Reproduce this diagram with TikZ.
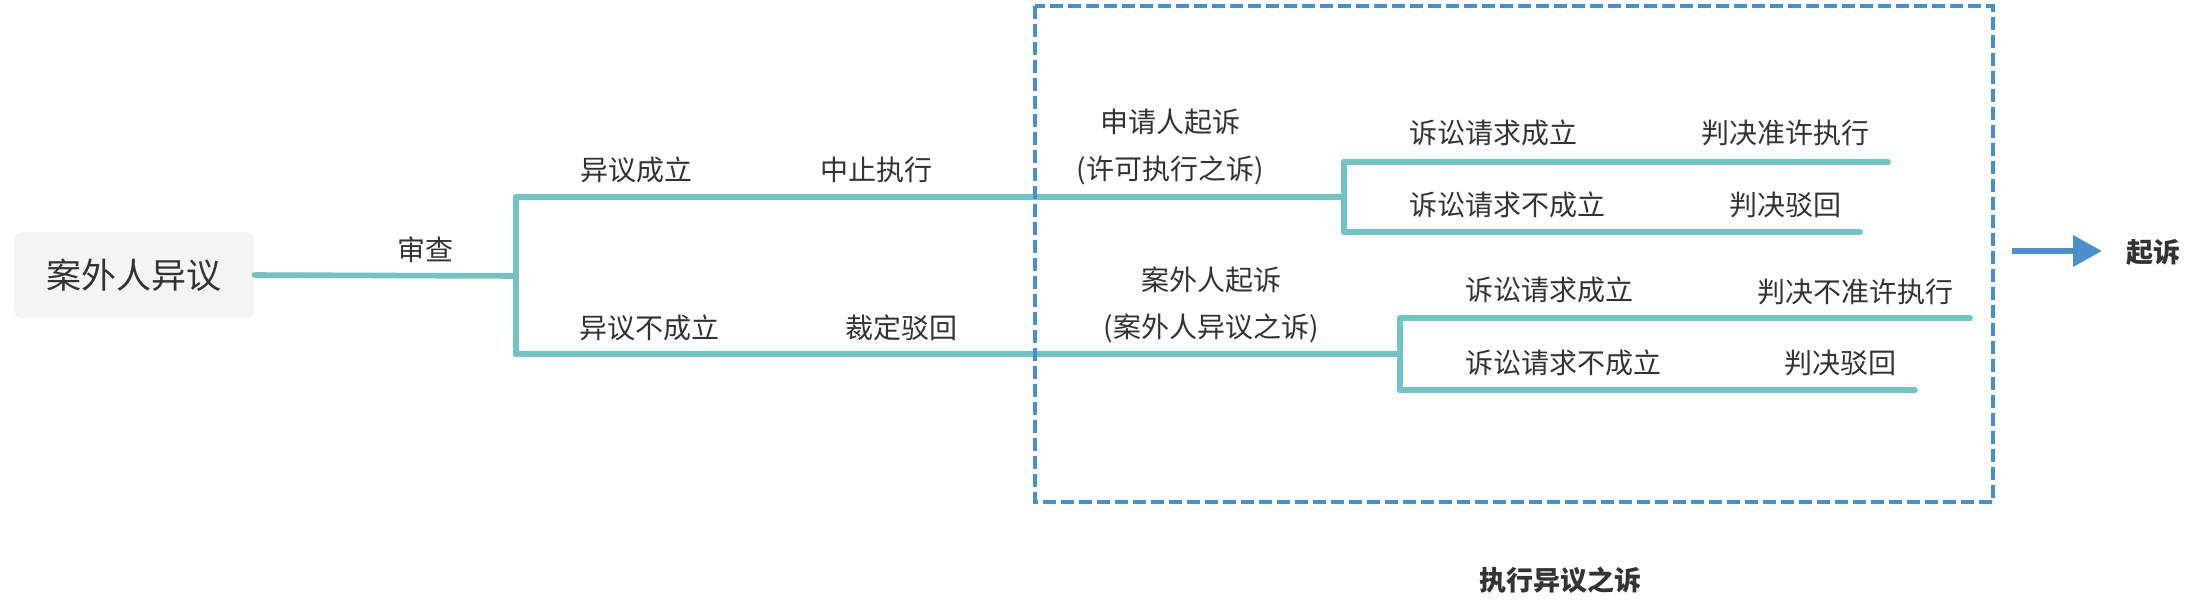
\documentclass[tikz,border=0pt]{standalone}
\usepackage{fontspec}
\setmainfont{Noto Sans CJK SC}
\usetikzlibrary{arrows.meta}
\definecolor{teal1}{HTML}{72C3C4}
\definecolor{blue1}{HTML}{4A8FCB}
\definecolor{txt}{HTML}{333333}
\definecolor{rootbg}{HTML}{F4F4F4}
\begin{document}
\begin{tikzpicture}[x=0.5pt,y=-0.5pt,
  lbl/.style={inner sep=0pt,text=txt,font=\fontsize{14pt}{16pt}\selectfont},
  lblL/.style={lbl,anchor=west},
  boldlbl/.style={inner sep=0pt,text=txt,font=\fontsize{13.5pt}{15pt}\selectfont\bfseries},
  branch/.style={draw=teal1,line width=2.8pt,line cap=round,line join=round},
  frame/.style={draw=blue1,line width=1.8pt,dash pattern=on 6.5pt off 2.5pt},
  bigarrow/.style={draw=blue1,line width=3.2pt,-{Triangle[length=14.5pt,width=15pt]}}]
\useasboundingbox (0,0) rectangle (2202,616);
% root
\node[fill=rootbg,rounded corners=4pt,minimum width=120pt,minimum height=43pt,inner sep=0pt,text=txt,font=\fontsize{17.5pt}{20pt}\selectfont] (root) at (134,275) {案外人异议};
% coordinates
\coordinate (b0) at (516,276);
\coordinate (bt) at (516,197);
\coordinate (bb) at (516,354);
\coordinate (c1) at (1344,197);
\coordinate (c1t) at (1344,162);
\coordinate (c1b) at (1344,232);
\coordinate (e1) at (1888,162);
\coordinate (e2) at (1860,232);
\coordinate (c2) at (1400,354);
\coordinate (c2t) at (1400,318);
\coordinate (c2b) at (1400,390);
\coordinate (e3) at (1970,318);
\coordinate (e4) at (1915,390);
% connectors
\draw[branch] (root.east) -- (b0);
\draw[branch] (bt) -- (bb);
\draw[branch] (bt) -- (c1);
\draw[branch] (bb) -- (c2);
\draw[branch] (c1t) -- (c1b);
\draw[branch] (c2t) -- (c2b);
\draw[branch] (c1t) -- (e1);
\draw[branch] (c1b) -- (e2);
\draw[branch] (c2t) -- (e3);
\draw[branch] (c2b) -- (e4);
% labels
\node[lbl] (l0) at (425,250) {审查};
\node[lbl] (l1) at (636,170) {异议成立};
\node[lbl] (l2) at (876,170) {中止执行};
\node[lbl] (l3) at (649,328) {异议不成立};
\node[lbl] (l4) at (901,328) {裁定驳回};
\node[lbl] (l5) at (1170,122) {申请人起诉};
\node[lbl] (l6) at (1170,170) {(许可执行之诉)};
\node[lbl] (l7) at (1211,280) {案外人起诉};
\node[lbl] (l8) at (1211,328) {(案外人异议之诉)};
\node[lblL] (l9) at (1409,133) {诉讼请求成立};
\node[lblL] (l10) at (1409,205) {诉讼请求不成立};
\node[lbl] (l11) at (1785,133) {判决准许执行};
\node[lbl] (l12) at (1785,205) {判决驳回};
\node[lblL] (l13) at (1465,290) {诉讼请求成立};
\node[lblL] (l14) at (1465,363) {诉讼请求不成立};
\node[lbl] (l15) at (1855,292) {判决不准许执行};
\node[lbl] (l16) at (1840,363) {判决驳回};
% frame
\draw[frame] (1035,6) rectangle (1993,502);
\node[boldlbl] (frametitle) at (1560,580) {执行异议之诉};
% arrow
\coordinate (a0) at (2012,251);
\node[boldlbl] (sue) at (2153,252) {起诉};
\draw[bigarrow] (a0) -- (2102,251);
\end{tikzpicture}
\end{document}
